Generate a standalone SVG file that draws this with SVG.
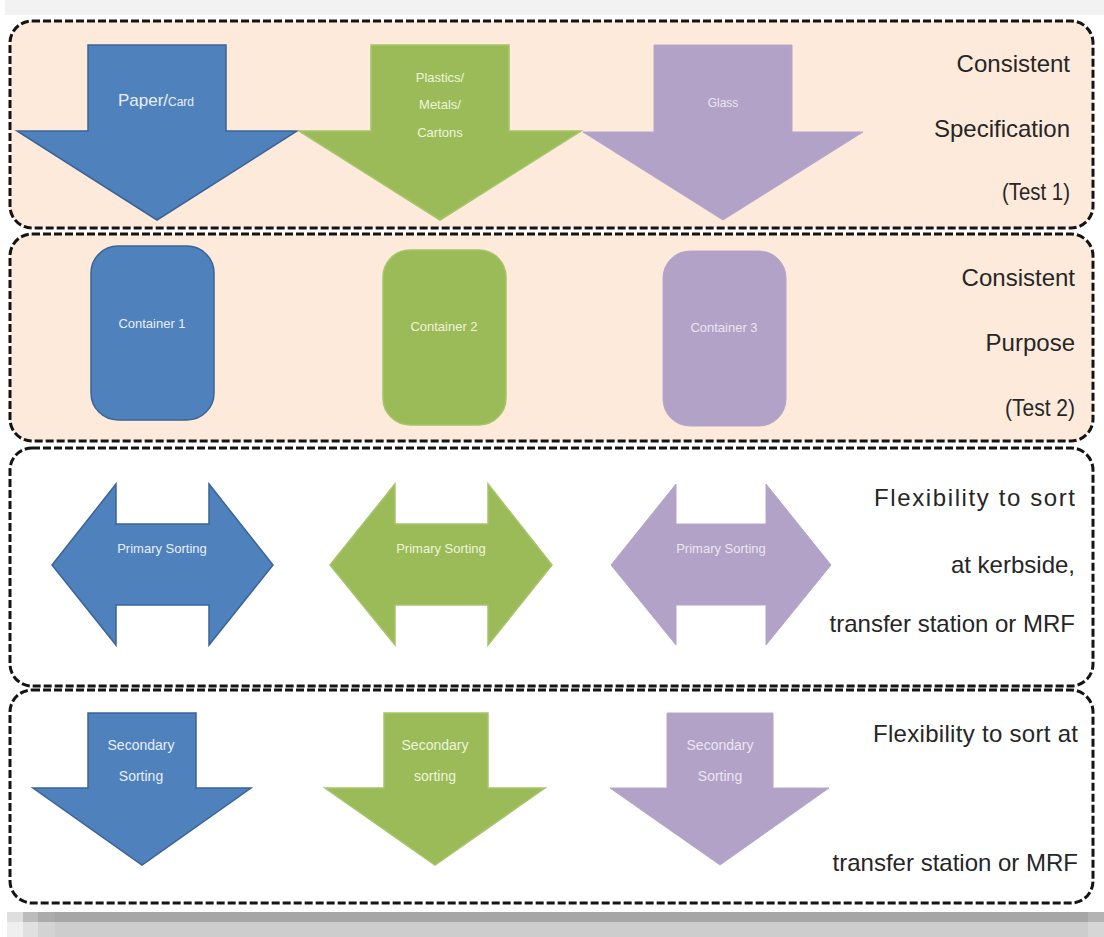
<svg xmlns="http://www.w3.org/2000/svg" width="1104" height="937" viewBox="0 0 1104 937">
<style>
.panel{stroke:#141414;stroke-width:3;stroke-dasharray:8 3}
.peach{fill:#fdeadb}
.white{fill:#ffffff}
.blue{fill:#4f81bd;stroke:#3b6497;stroke-width:1.5}
.green{fill:#9bbb59;stroke:#a6c46a;stroke-width:1.5}
.purple{fill:#b2a2c7;stroke:#b6a6ca;stroke-width:1}
.lbl{font-family:"Liberation Sans",Arial,sans-serif;text-anchor:middle}
.tb{fill:#e8eff8}
.tg{fill:#eef4da}
.tp{fill:#ebe6f1}
.side{font-family:"Liberation Sans",Arial,sans-serif;font-size:24px;fill:#262626;text-anchor:end}
</style>
<rect x="0" y="0" width="1104" height="937" fill="#ffffff"/>
<g id="bands">
<rect x="5" y="0" width="1099" height="15" fill="#f2f2f2"/>
<rect x="7" y="912" width="16" height="10" fill="#dedede"/>
<rect x="7" y="922" width="16" height="15" fill="#efefef"/>
<rect x="23" y="912" width="15" height="10" fill="#bcbcbc"/>
<rect x="23" y="922" width="15" height="15" fill="#e0e0e0"/>
<rect x="38" y="912" width="17" height="10" fill="#ababab"/>
<rect x="38" y="922" width="17" height="15" fill="#d3d3d3"/>
<rect x="55" y="912" width="1033" height="10" fill="#a6a6a6"/>
<rect x="55" y="922" width="1033" height="15" fill="#cdcdcd"/>
<rect x="1088" y="912" width="16" height="10" fill="#b3b3b3"/>
<rect x="1088" y="922" width="16" height="15" fill="#d6d6d6"/>
</g>
<g id="panel1">
<rect class="panel peach" x="10" y="21" width="1083" height="207" rx="22"/>
<text class="side" x="1070" y="72">Consistent</text>
<text class="side" x="1070" y="137">Specification</text>
<text class="side" x="1070" y="200" textLength="68" lengthAdjust="spacingAndGlyphs">(Test 1)</text>
</g>
<g id="panel2">
<rect class="panel peach" x="10" y="234" width="1083" height="207" rx="22"/>
<text class="side" x="1075" y="286">Consistent</text>
<text class="side" x="1075" y="351">Purpose</text>
<text class="side" x="1075" y="416" textLength="70" lengthAdjust="spacingAndGlyphs">(Test 2)</text>
</g>
<g id="panel3">
<rect class="panel white" x="10" y="448" width="1083" height="238" rx="22"/>
<text class="side" x="1075" y="506" textLength="201" lengthAdjust="spacing">Flexibility to sort</text>
<text class="side" x="1075" y="573">at kerbside,</text>
<text class="side" x="1075" y="632">transfer station or MRF</text>
</g>
<g id="panel4">
<rect class="panel white" x="10" y="690" width="1083" height="213" rx="22"/>
<text class="side" x="1078" y="742" textLength="205" lengthAdjust="spacing">Flexibility to sort at</text>
<text class="side" x="1078" y="871">transfer station or MRF</text>
</g>
<g id="connectors"></g>
<g id="paper-card">
<path class="blue" d="M88,45 H226 V131 H297 L157,220 L17,131 H88 Z"/>
<text class="lbl tb" x="156" y="106"><tspan font-size="17">Paper/</tspan><tspan font-size="12">Card</tspan></text>
</g>
<g id="plastics">
<path class="green" d="M371,45 H509 V131 H581 L440,220 L299,131 H371 Z"/>
<text class="lbl tg" font-size="13" x="440" y="82">Plastics/</text>
<text class="lbl tg" font-size="13" x="440" y="109">Metals/</text>
<text class="lbl tg" font-size="13" x="440" y="137">Cartons</text>
</g>
<g id="glass">
<path class="purple" d="M654,45 H792 V132 H863 L723,220 L583,132 H654 Z"/>
<text class="lbl tp" font-size="12" x="723" y="107">Glass</text>
</g>
<g id="container1">
<rect class="blue" x="91" y="246" width="123" height="174" rx="27" stroke-width="2"/>
<text class="lbl tb" font-size="13" x="152" y="328">Container 1</text>
</g>
<g id="container2">
<rect class="green" x="383" y="250" width="123" height="175" rx="27"/>
<text class="lbl tg" font-size="13" x="444" y="331">Container 2</text>
</g>
<g id="container3">
<rect class="purple" x="663" y="251" width="123" height="175" rx="27"/>
<text class="lbl tp" font-size="13" x="724" y="332">Container 3</text>
</g>
<g id="primary1">
<path class="blue" d="M52,565 L116,484 V524 H209 V484 L273,565 L209,645 V605 H116 V645 Z"/>
<text class="lbl tb" font-size="13" x="162" y="553">Primary Sorting</text>
</g>
<g id="primary2">
<path class="green" d="M330,565 L395,484 V524 H488 V484 L552,565 L488,645 V605 H395 V645 Z"/>
<text class="lbl tg" font-size="13" x="441" y="553">Primary Sorting</text>
</g>
<g id="primary3">
<path class="purple" d="M611,565 L676,484 V524 H766 V484 L831,565 L766,645 V605 H676 V645 Z"/>
<text class="lbl tp" font-size="13" x="721" y="553">Primary Sorting</text>
</g>
<g id="secondary1">
<path class="blue" d="M88,713 H196 V788 H251 L142,865 L33,788 H88 Z"/>
<text class="lbl tb" font-size="14" x="141" y="750">Secondary</text>
<text class="lbl tb" font-size="14" x="141" y="781">Sorting</text>
</g>
<g id="secondary2">
<path class="green" d="M384,713 H488 V788 H545 L435,865 L325,788 H384 Z"/>
<text class="lbl tg" font-size="14" x="435" y="750">Secondary</text>
<text class="lbl tg" font-size="14" x="435" y="781">sorting</text>
</g>
<g id="secondary3">
<path class="purple" d="M667,713 H773 V788 H829 L720,865 L610,788 H667 Z"/>
<text class="lbl tp" font-size="14" x="720" y="750">Secondary</text>
<text class="lbl tp" font-size="14" x="720" y="781">Sorting</text>
</g>
</svg>
